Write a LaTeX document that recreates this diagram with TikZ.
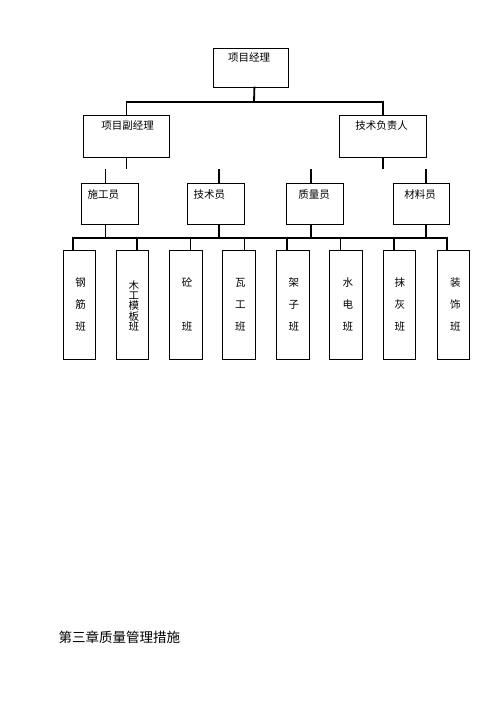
\documentclass[tikz,border=0pt]{standalone}
\usepackage{fontspec}
\setmainfont{Noto Sans CJK SC}
\begin{document}
\begin{tikzpicture}[x=1pt,y=-1pt,
  box/.style={draw=black, line width=0.8pt, inner sep=0pt, anchor=north west},
  tbox/.style={box, minimum width=57pt, minimum height=41.3pt},
  cbox/.style={box, minimum width=32.5pt, minimum height=109pt},
  conn/.style={line width=1.8pt, line cap=rect},
  lbl/.style={font=\fontsize{10.5}{12}\selectfont, inner sep=0pt},
  vlbl/.style={font=\fontsize{10.5}{22}\selectfont, inner sep=0pt, align=center},
  tlbl/.style={font=\fontsize{10.5}{10.4}\selectfont, inner sep=0pt, align=center}]
\useasboundingbox (0,0) rectangle (500,707);

% boxes
\node[box, minimum width=75pt, minimum height=38.4pt] (pm) at (212.7,48.3) {};
\node[box, minimum width=85.7pt, minimum height=41.7pt] (dpm) at (83.3,115) {};
\node[box, minimum width=86.7pt, minimum height=41.7pt] (tech) at (339,115) {};

\node[tbox] (sg) at (80.7,182.7) {};
\node[tbox, minimum width=57.6pt] (js) at (186.7,182.7) {};
\node[tbox, minimum width=57.3pt] (zl) at (286,182.7) {};
\node[tbox, minimum width=56pt] (cl) at (392.7,182.7) {};

\node[cbox] (c1) at (62.7,250) {};
\node[cbox] (c2) at (115.7,250) {};
\node[cbox] (c3) at (169,250) {};
\node[cbox] (c4) at (222.3,250) {};
\node[cbox] (c5) at (276,250) {};
\node[cbox] (c6) at (329.3,250) {};
\node[cbox] (c7) at (382.7,250) {};
\node[cbox] (c8) at (436.7,250) {};

% labels
\node[lbl] (tpm) at (249,58) {项目经理};
\node[lbl] (tdpm) at (127.5,126) {项目副经理};
\node[lbl] (ttech) at (381.5,126) {技术负责人};
\node[lbl] (tsg) at (103.3,195) {施工员};
\node[lbl] (tjs) at (209.3,195) {技术员};
\node[lbl] (tzl) at (314,195) {质量员};
\node[lbl] (tcl) at (420,195) {材料员};

\node[vlbl] (t1) at ([xshift=1.2pt]c1.center) {钢\\筋\\班};
\node[tlbl] (t2) at ([xshift=1.4pt,yshift=-1pt]c2.center) {木\\工\\模\\板\\班};
\node[vlbl] (t3) at ([xshift=1.5pt]c3.center) {砼\\\phantom{砼}\\班};
\node[vlbl] (t4) at ([xshift=1.5pt]c4.center) {瓦\\工\\班};
\node[vlbl] (t5) at ([xshift=1.2pt]c5.center) {架\\子\\班};
\node[vlbl] (t6) at ([xshift=1.8pt]c6.center) {水\\电\\班};
\node[vlbl] (t7) at ([xshift=0.5pt]c7.center) {抹\\灰\\班};
\node[vlbl] (t8) at ([xshift=2pt]c8.center) {装\\饰\\班};

\node[anchor=west, inner sep=0pt, font=\fontsize{13.5}{15}\selectfont] (ch) at (58.5,637) {第三章质量管理措施};

% connectors level 1-2
\coordinate (bus1) at (254,101.7);
\draw[conn] ([xshift=3.8pt]pm.south) -- (bus1);
\draw[conn] (dpm.north) -- (dpm.north |- bus1) -- (tech.north |- bus1) -- (tech.north);

% stubs below level 2
\draw[conn] (dpm.south) -- ++(0,11);
\draw[conn] (tech.south) -- ++(0,11);

% stubs above level 3
\draw[conn] ([xshift=-4.2pt]sg.north) -- ++(0,-12.7);
\draw[conn] ([xshift=2.8pt]js.north) -- ++(0,-12.7);
\draw[conn] ([xshift=-3.7pt]zl.north) -- ++(0,-12.7);
\draw[conn] ([xshift=5pt]cl.north) -- ++(0,-12.7);

% level 3 to bus
\coordinate (bus2) at (254,238.3);
\draw[conn] ([xshift=-4.2pt]sg.south) -- ([xshift=-4.2pt]sg.south |- bus2);
\draw[conn] ([xshift=2.8pt]js.south) -- ([xshift=2.8pt]js.south |- bus2);
\draw[conn] ([xshift=-3.7pt]zl.south) -- ([xshift=-3.7pt]zl.south |- bus2);
\draw[conn] ([xshift=5pt]cl.south) -- ([xshift=5pt]cl.south |- bus2);

% bus to crews
\draw[conn] ([xshift=-6.2pt]c1.north) -- ([xshift=-6.2pt]c1.north |- bus2) -- ([xshift=-6.2pt]c8.north |- bus2) -- ([xshift=-6.2pt]c8.north);
\draw[conn] ([xshift=4.8pt]c2.north) -- ([xshift=4.8pt]c2.north |- bus2);
\draw[conn] ([xshift=4.8pt]c3.north) -- ([xshift=4.8pt]c3.north |- bus2);
\draw[conn] ([xshift=5.5pt]c4.north) -- ([xshift=5.5pt]c4.north |- bus2);
\draw[conn] ([xshift=-5.9pt]c5.north) -- ([xshift=-5.9pt]c5.north |- bus2);
\draw[conn] ([xshift=-5.5pt]c6.north) -- ([xshift=-5.5pt]c6.north |- bus2);
\draw[conn] ([xshift=-5.6pt]c7.north) -- ([xshift=-5.6pt]c7.north |- bus2);
\end{tikzpicture}
\end{document}
